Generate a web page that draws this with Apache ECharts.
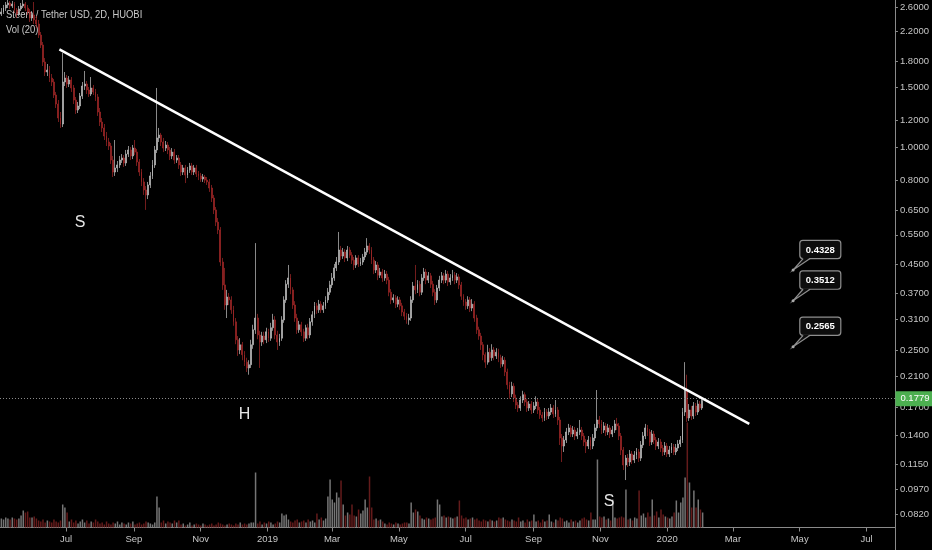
<!DOCTYPE html>
<html><head><meta charset="utf-8">
<script src="https://cdn.jsdelivr.net/npm/echarts@6/dist/echarts.min.js"></script>
<style>html,body{margin:0;padding:0;background:#000;}#c{width:932px;height:550px;}</style>
</head><body><div id="c"></div>
<script>
// ---- data (Steem / Tether USD, 2D candles, HUOBI) ----
const firstCandleDate = '2018-05-03';
const candleStepDays = 2;
const opens = [
2.479,2.513,2.582,2.636,2.672,2.618,2.654,2.547,2.479,2.565,
2.618,2.654,2.582,2.513,2.412,2.462,2.380,2.316,2.148,2.007,
1.787,1.669,1.692,1.602,1.559,1.427,1.342,1.220,1.171,1.559,
1.602,1.538,1.581,1.497,1.379,1.288,1.324,1.417,1.517,1.538,
1.477,1.437,1.497,1.457,1.408,1.271,1.187,1.140,1.079,1.036,
1.008,0.916,0.844,0.868,0.886,0.916,0.929,0.898,0.954,0.981,
0.942,0.994,0.967,0.904,0.844,0.789,0.747,0.722,0.773,0.822,
0.886,0.981,1.065,1.086,1.036,0.994,1.015,0.981,0.942,0.967,
0.916,0.929,0.886,0.844,0.868,0.827,0.856,0.880,0.844,0.868,
0.833,0.822,0.805,0.816,0.799,0.789,0.757,0.707,0.652,0.600,
0.569,0.457,0.391,0.341,0.360,0.353,0.330,0.304,0.269,0.251,
0.260,0.243,0.231,0.222,0.227,0.260,0.288,0.312,0.278,0.265,
0.276,0.269,0.284,0.272,0.292,0.308,0.278,0.265,0.272,0.308,
0.353,0.393,0.410,0.378,0.341,0.312,0.288,0.298,0.284,0.272,
0.292,0.278,0.304,0.319,0.339,0.330,0.343,0.330,0.339,0.353,
0.372,0.391,0.410,0.439,0.457,0.496,0.476,0.489,0.470,0.496,
0.479,0.463,0.448,0.470,0.451,0.457,0.473,0.489,0.510,0.496,
0.463,0.433,0.448,0.418,0.427,0.410,0.421,0.404,0.372,0.353,
0.358,0.343,0.353,0.339,0.325,0.316,0.308,0.312,0.353,0.388,
0.378,0.393,0.372,0.410,0.427,0.404,0.416,0.393,0.372,0.353,
0.383,0.404,0.416,0.404,0.421,0.399,0.410,0.418,0.404,0.413,
0.391,0.362,0.348,0.339,0.353,0.334,0.343,0.312,0.288,0.276,
0.260,0.243,0.231,0.247,0.238,0.251,0.241,0.247,0.238,0.228,
0.234,0.216,0.198,0.186,0.196,0.181,0.1724,0.1690,0.1784,0.185,
0.1760,0.1690,0.1736,0.1667,0.1713,0.1760,0.1667,0.1611,0.1579,0.1644,
0.1600,0.1644,0.1690,0.1622,0.1667,0.1557,0.1377,0.1304,0.1358,0.1435,
0.1475,0.1415,0.1454,0.1396,0.1435,0.1454,0.1396,0.1340,0.1304,0.1358,
0.1304,0.1377,0.1475,0.1557,0.1516,0.1454,0.1495,0.1435,0.1475,0.1415,
0.1454,0.1516,0.1495,0.1396,0.1269,0.1146,0.1201,0.1169,0.1235,0.1185,
0.1226,0.1252,0.1201,0.1313,0.1396,0.1475,0.1435,0.1340,0.1415,0.1358,
0.1304,0.1340,0.1286,0.1252,0.1304,0.1235,0.1269,0.1295,0.1252,0.1286,
0.1322,0.1358,0.1644,0.191,0.1579,0.1667,0.1600,0.1713,0.1644,0.1736,
0.1690];
const closes = [
2.513,2.582,2.636,2.672,2.618,2.654,2.547,2.479,2.565,2.618,
2.654,2.582,2.513,2.412,2.462,2.380,2.316,2.148,2.007,1.787,
1.669,1.692,1.602,1.559,1.427,1.342,1.220,1.171,1.559,1.602,
1.538,1.581,1.497,1.379,1.288,1.324,1.417,1.517,1.538,1.477,
1.437,1.497,1.457,1.408,1.271,1.187,1.140,1.079,1.036,1.008,
0.916,0.844,0.868,0.886,0.916,0.929,0.898,0.954,0.981,0.942,
0.994,0.967,0.904,0.844,0.789,0.747,0.722,0.773,0.822,0.886,
0.981,1.065,1.086,1.036,0.994,1.015,0.981,0.942,0.967,0.916,
0.929,0.886,0.844,0.868,0.827,0.856,0.880,0.844,0.868,0.833,
0.822,0.805,0.816,0.799,0.789,0.757,0.707,0.652,0.600,0.569,
0.457,0.391,0.341,0.360,0.353,0.330,0.304,0.269,0.251,0.260,
0.243,0.231,0.222,0.227,0.260,0.288,0.312,0.278,0.265,0.276,
0.269,0.284,0.272,0.292,0.308,0.278,0.265,0.272,0.308,0.353,
0.393,0.410,0.378,0.341,0.312,0.288,0.298,0.284,0.272,0.292,
0.278,0.304,0.319,0.339,0.330,0.343,0.330,0.339,0.353,0.372,
0.391,0.410,0.439,0.457,0.496,0.476,0.489,0.470,0.496,0.479,
0.463,0.448,0.470,0.451,0.457,0.473,0.489,0.510,0.496,0.463,
0.433,0.448,0.418,0.427,0.410,0.421,0.404,0.372,0.353,0.358,
0.343,0.353,0.339,0.325,0.316,0.308,0.312,0.353,0.388,0.378,
0.393,0.372,0.410,0.427,0.404,0.416,0.393,0.372,0.353,0.383,
0.404,0.416,0.404,0.421,0.399,0.410,0.418,0.404,0.413,0.391,
0.362,0.348,0.339,0.353,0.334,0.343,0.312,0.288,0.276,0.260,
0.243,0.231,0.247,0.238,0.251,0.241,0.247,0.238,0.228,0.234,
0.216,0.198,0.186,0.196,0.181,0.1724,0.1690,0.1784,0.185,0.1760,
0.1690,0.1736,0.1667,0.1713,0.1760,0.1667,0.1611,0.1579,0.1644,0.1600,
0.1644,0.1690,0.1622,0.1667,0.1557,0.1377,0.1304,0.1358,0.1435,0.1475,
0.1415,0.1454,0.1396,0.1435,0.1454,0.1396,0.1340,0.1304,0.1358,0.1304,
0.1377,0.1475,0.1557,0.1516,0.1454,0.1495,0.1435,0.1475,0.1415,0.1454,
0.1516,0.1495,0.1396,0.1269,0.1146,0.1201,0.1169,0.1235,0.1185,0.1226,
0.1252,0.1201,0.1313,0.1396,0.1475,0.1435,0.1340,0.1415,0.1358,0.1304,
0.1340,0.1286,0.1252,0.1304,0.1235,0.1269,0.1295,0.1252,0.1286,0.1322,
0.1358,0.1644,0.191,0.1579,0.1667,0.1600,0.1713,0.1644,0.1736,0.1690,
0.1779];
const highs = [
2.582,2.636,2.690,2.727,2.709,2.709,2.690,2.582,2.618,2.672,
2.727,2.690,2.636,2.565,2.530,2.690,2.445,2.380,2.193,2.048,
1.836,1.763,1.739,1.647,1.592,1.457,1.379,1.271,1.900,1.669,
1.636,1.624,1.613,1.528,1.408,1.361,1.447,1.559,1.681,1.570,
1.507,1.613,1.528,1.487,1.437,1.306,1.220,1.171,1.109,1.065,
1.029,0.942,1.050,0.910,0.942,0.954,0.948,0.981,1.008,1.001,
1.015,1.050,0.988,0.922,0.862,0.810,0.767,0.789,0.844,0.916,
1.008,1.497,1.140,1.102,1.065,1.043,1.036,1.001,0.994,0.988,
0.948,0.948,0.904,0.886,0.886,0.874,0.898,0.898,0.886,0.886,
0.850,0.839,0.833,0.827,0.816,0.805,0.773,0.722,0.665,0.617,
0.580,0.470,0.439,0.378,0.370,0.362,0.339,0.312,0.276,0.272,
0.265,0.249,0.238,0.234,0.269,0.298,0.520,0.321,0.286,0.284,
0.284,0.292,0.290,0.302,0.321,0.316,0.286,0.280,0.316,0.362,
0.404,0.448,0.421,0.385,0.350,0.321,0.306,0.304,0.290,0.298,
0.300,0.312,0.327,0.348,0.346,0.353,0.350,0.348,0.362,0.383,
0.402,0.424,0.451,0.473,0.561,0.510,0.503,0.499,0.510,0.506,
0.489,0.473,0.479,0.479,0.470,0.483,0.503,0.538,0.520,0.506,
0.473,0.460,0.457,0.439,0.436,0.433,0.430,0.413,0.380,0.367,
0.365,0.362,0.360,0.346,0.332,0.323,0.321,0.362,0.399,0.448,
0.404,0.402,0.421,0.439,0.436,0.427,0.424,0.402,0.380,0.391,
0.416,0.427,0.424,0.433,0.430,0.421,0.433,0.427,0.424,0.421,
0.399,0.367,0.355,0.362,0.360,0.355,0.350,0.319,0.294,0.282,
0.265,0.247,0.260,0.254,0.261,0.256,0.254,0.253,0.243,0.241,
0.239,0.221,0.202,0.202,0.200,0.185,0.1760,0.183,0.190,0.188,
0.180,0.1772,0.1772,0.1760,0.183,0.180,0.1701,0.1644,0.1690,0.1678,
0.1690,0.1736,0.1724,0.1784,0.1701,0.1590,0.1415,0.1396,0.1475,0.1516,
0.1505,0.1495,0.1485,0.1475,0.1557,0.1485,0.1425,0.1367,0.1396,0.1386,
0.1415,0.1516,0.191,0.1600,0.1557,0.1536,0.1526,0.1516,0.1505,0.1495,
0.1557,0.1579,0.1526,0.1425,0.1295,0.1226,0.1235,0.1269,0.1260,0.1260,
0.1286,0.1277,0.1349,0.1435,0.1516,0.1505,0.1465,0.1454,0.1445,0.1386,
0.1377,0.1367,0.1313,0.1340,0.1331,0.1304,0.1331,0.1322,0.1322,0.1358,
0.1396,0.1690,0.231,0.212,0.1736,0.1713,0.1760,0.1748,0.1784,0.1772,
0.181];
const lows = [
2.445,2.479,2.530,2.582,2.565,2.582,2.496,2.412,2.445,2.530,
2.582,2.530,2.462,2.348,2.364,2.316,2.253,2.105,1.966,1.739,
1.624,1.624,1.559,1.517,1.398,1.306,1.187,1.140,1.147,1.517,
1.497,1.507,1.457,1.342,1.254,1.262,1.297,1.389,1.477,1.437,
1.408,1.417,1.427,1.370,1.237,1.155,1.109,1.050,1.008,0.981,
0.892,0.816,0.822,0.844,0.868,0.898,0.874,0.880,0.935,0.916,
0.922,0.948,0.880,0.822,0.767,0.722,0.652,0.702,0.757,0.805,
0.868,0.961,1.036,1.008,0.967,0.974,0.954,0.916,0.922,0.892,
0.898,0.862,0.822,0.827,0.783,0.810,0.839,0.827,0.827,0.816,
0.799,0.789,0.789,0.783,0.773,0.737,0.688,0.634,0.584,0.553,
0.445,0.378,0.330,0.312,0.341,0.321,0.296,0.261,0.241,0.244,
0.234,0.225,0.216,0.212,0.222,0.253,0.280,0.270,0.222,0.258,
0.261,0.263,0.265,0.267,0.286,0.270,0.251,0.258,0.267,0.302,
0.346,0.383,0.367,0.332,0.304,0.280,0.282,0.276,0.265,0.267,
0.270,0.272,0.296,0.312,0.321,0.323,0.323,0.323,0.332,0.346,
0.365,0.383,0.402,0.430,0.448,0.463,0.467,0.457,0.460,0.470,
0.451,0.433,0.439,0.442,0.445,0.448,0.463,0.479,0.483,0.451,
0.421,0.424,0.404,0.410,0.399,0.402,0.393,0.362,0.343,0.346,
0.334,0.336,0.330,0.316,0.308,0.300,0.298,0.306,0.346,0.367,
0.370,0.362,0.365,0.402,0.393,0.396,0.383,0.362,0.341,0.346,
0.375,0.396,0.393,0.396,0.388,0.391,0.402,0.393,0.396,0.380,
0.353,0.339,0.330,0.332,0.325,0.327,0.304,0.280,0.269,0.251,
0.234,0.222,0.227,0.231,0.233,0.234,0.236,0.231,0.222,0.224,
0.210,0.192,0.180,0.182,0.1760,0.1678,0.1644,0.1656,0.1748,0.1713,
0.1644,0.1656,0.1622,0.1633,0.1678,0.1622,0.1568,0.1536,0.1547,0.1557,
0.1568,0.1611,0.1579,0.1590,0.1505,0.1313,0.1169,0.1252,0.1331,0.1405,
0.1386,0.1386,0.1358,0.1367,0.1405,0.1358,0.1304,0.1243,0.1277,0.1269,
0.1277,0.1349,0.1445,0.1475,0.1415,0.1425,0.1396,0.1405,0.1377,0.1386,
0.1425,0.1454,0.1358,0.1226,0.1107,0.1034,0.1130,0.1138,0.1153,0.1161,
0.1193,0.1169,0.1177,0.1286,0.1367,0.1396,0.1304,0.1313,0.1322,0.1269,
0.1277,0.1252,0.1218,0.1226,0.1210,0.1210,0.1243,0.1226,0.1226,0.1260,
0.1295,0.1331,0.1600,0.1536,0.1547,0.1557,0.1568,0.1600,0.1611,0.1656,
0.1667];
const volumes = [
9,8,10,9,8,10,9,8,9,
12,17,15,16,10,
10,11,9,
7,6,8,5,7,6,5,8,6,5,7,
23,20,15,
6,8,5,7,4,6,8,5,7,4,6,5,8,6,
4,5,3,6,4,3,5,4,6,3,5,4,3,5,4,6,3,4,5,3,4,6,5,4,3,5,
31,20,
5,7,4,6,5,4,7,5,
7,
3,4,2,3,5,2,3,4,3,2,4,3,2,3,4,2,3,5,4,3,2,3,4,3,2,4,3,5,3,4,3,4,5,
5,55,
4,6,3,5,4,6,5,3,4,6,5,
14,12,13,8,
6,5,7,8,5,6,7,5,8,6,7,5,
14,
8,10,7,9,
31,48,28,25,35,30,47,23,
12,15,13,
23,12,11,18,14,17,28,20,51,20,
8,9,7,8,6,
4,3,5,4,3,5,4,3,4,5,5,4,
25,15,18,16,12,
9,8,10,9,8,9,10,
28,23,
11,12,10,11,10,9,10,11,
27,12,
9,10,8,9,10,8,9,
7,6,8,7,6,8,7,6,7,
10,9,10,8,
7,6,8,7,6,
10,
6,7,5,8,6,7,
13,
6,7,5,8,6,7,
13,
6,5,8,7,10,9,6,7,5,8,6,7,5,
7,9,10,8,7,
15,8,8,68,
11,10,11,
8,9,7,
28,
10,9,10,11,10,
38,
8,9,7,
10,9,
37,
12,14,10,15,
11,28,
12,16,10,18,13,11,
10,9,11,
15,27,15,25,30,50,105,45,20,37,20,28,18,15];
const priceTicks = [2.6,2.2,1.8,1.5,1.2,1.0,0.8,0.65,0.55,0.45,0.37,0.31,0.25,0.21,0.17,0.14,0.115,0.097,0.082];
const monthTicks = ['2018-07-01','2018-09-01','2018-11-01','2019-01-01','2019-03-01','2019-05-01','2019-07-01','2019-09-01','2019-11-01','2020-01-01','2020-03-01','2020-05-01','2020-07-01'];
const monthNames = ['Jan','Feb','Mar','Apr','May','Jun','Jul','Aug','Sep','Oct','Nov','Dec'];
const lastPrice = 0.1779;
const trendline = [['2018-06-25', 1.948], ['2020-03-16', 0.1516]];
const calloutDate = '2020-04-25';
const callouts = [0.4328, 0.3512, 0.2565];
const annotations = [
  {text:'S', date:'2018-07-14', price:0.600},
  {text:'H', date:'2018-12-11', price:0.1619},
  {text:'S', date:'2019-11-09', price:0.0892}
];

// ---- build ----
const DAY = 86400000;
const ts = s => Date.parse(s + 'T00:00:00Z');
const t0 = ts(firstCandleDate);
const dates = closes.map((_, i) => t0 + i * candleStepDays * DAY);
const candleData = closes.map((c, i) => [dates[i], opens[i], c, lows[i], highs[i]]);
const UP = '#9c9c9c', UP_B = '#c4c4c4', DN = '#801c1c', DN_B = '#a52828';
const volData = volumes.map((v, i) => ({
  value: [dates[i], v],
  itemStyle: {color: closes[i] >= opens[i] ? '#757575' : '#641b1b'}
}));

const FONT = '"Liberation Sans Narrow", "Liberation Sans", Arial, sans-serif';
const AXIS_C = '#8a8a8a', LABEL_C = '#c6c6c6';
const gridRight = 36.5, gridBottom = 22.5;
const jul2018 = ts('2018-07-01');
const xMin = jul2018 - 60.23 * DAY, xMax = jul2018 + 757.0 * DAY;
const monthTickValues = monthTicks.map(ts);
const fmtMonth = v => { const d = new Date(v); const m = d.getUTCMonth(); return m === 0 ? String(d.getUTCFullYear()) : monthNames[m]; };

const option = {
  backgroundColor: '#000000',
  animation: false,
  grid: [
    {left: 0, right: gridRight, top: 0, bottom: gridBottom},
    {left: 0, right: gridRight, bottom: gridBottom, height: 200}
  ],
  xAxis: [
    {type: 'value', gridIndex: 0, min: xMin, max: xMax, scale: true,
     axisLine: {show: true, onZero: false, lineStyle: {color: AXIS_C, width: 1}},
     axisTick: {show: true, length: 4, customValues: monthTickValues, lineStyle: {color: AXIS_C}},
     axisLabel: {show: true, customValues: monthTickValues, color: LABEL_C, fontSize: 9.5, fontFamily: FONT, margin: 7, formatter: fmtMonth},
     splitLine: {show: false}},
    {type: 'value', gridIndex: 1, min: xMin, max: xMax, scale: true, show: false, splitLine: {show: false}}
  ],
  yAxis: [
    {type: 'log', logBase: 10, gridIndex: 0, position: 'right', min: 0.07482, max: 2.7271,
     axisLine: {show: true, lineStyle: {color: AXIS_C, width: 1}},
     axisTick: {show: true, length: 3, customValues: priceTicks, lineStyle: {color: AXIS_C}},
     axisLabel: {show: true, customValues: priceTicks, formatter: v => Number(v).toFixed(4), color: LABEL_C, fontSize: 9.5, fontFamily: FONT, margin: 5},
     splitLine: {show: false}},
    {type: 'value', gridIndex: 1, min: 0, max: 200, show: false, splitLine: {show: false}}
  ],
  series: [
    {type: 'bar', name: 'Vol', xAxisIndex: 1, yAxisIndex: 1, data: volData, barWidth: 1.5, z: 1},
    {type: 'candlestick', name: 'STEEMUSDT', xAxisIndex: 0, yAxisIndex: 0, data: candleData,
     encode: {x: 0, y: [1, 2, 3, 4]}, barWidth: 1.4, z: 3,
     itemStyle: {color: UP, color0: DN, borderColor: UP_B, borderColor0: DN_B, borderWidth: 0.7},
     markLine: {symbol: ['none', 'none'], silent: true, animation: false,
       lineStyle: {color: '#8a8a8a', type: [1, 2], width: 1},
       label: {show: true, position: 'end', formatter: lastPrice.toFixed(4), backgroundColor: '#4caf50', color: '#ffffff',
         padding: [3, 4, 2, 5], fontSize: 9.5, fontFamily: FONT, distance: 0.5},
       data: [{yAxis: lastPrice}]},
     markPoint: {symbol: 'circle', symbolSize: 1, itemStyle: {color: 'rgba(0,0,0,0)'}, animation: false,
       label: {show: true, position: 'inside', formatter: '{b}', color: '#e6e6e6', fontSize: 16, fontFamily: FONT},
       data: annotations.map(a => ({name: a.text, coord: [ts(a.date), a.price]}))}
    },
    {type: 'line', name: 'Trend', xAxisIndex: 0, yAxisIndex: 0, data: trendline.map(p => [ts(p[0]), p[1]]),
     symbol: 'none', lineStyle: {color: '#ffffff', width: 2.5}, z: 5, silent: true}
  ]
};

const chart = echarts.init(document.getElementById('c'));
chart.setOption(option);

const g = [];
g.push({type: 'text', x: 6, y: 14.5, scaleX: 0.82, style: {text: 'Steem / Tether USD, 2D, HUOBI', fill: '#c9c9c9', font: '11.5px ' + FONT, verticalAlign: 'middle', textVerticalAlign: 'middle'}});
g.push({type: 'text', x: 6, y: 29.5, scaleX: 0.82, style: {text: 'Vol (20)', fill: '#c9c9c9', font: '11.5px ' + FONT, verticalAlign: 'middle', textVerticalAlign: 'middle'}});
g.push({type: 'line', shape: {x1: 932 - gridRight, y1: 550 - gridBottom, x2: 932 - gridRight, y2: 550}, style: {stroke: AXIS_C, lineWidth: 1}});
callouts.forEach(v => {
  const p = chart.convertToPixel({xAxisIndex: 0, yAxisIndex: 0}, [ts(calloutDate), v]);
  const bx = p[0] + 6.7, by = p[1] - 29.7, bw = 41, bh = 18.3;
  g.push({type: 'rect', z: 10, shape: {x: bx, y: by, width: bw, height: bh, r: 3}, style: {fill: '#0d0d0d', stroke: '#8f8f8f', lineWidth: 1.2}});
  g.push({type: 'polygon', z: 11, shape: {points: [[p[0] + 10, by + bh - 0.8], [p[0] + 17, by + bh - 0.8], [p[0], p[1]]]}, style: {fill: '#0d0d0d'}});
  g.push({type: 'polyline', z: 11, shape: {points: [[p[0] + 10, by + bh], [p[0], p[1]], [p[0] + 17, by + bh]]}, style: {stroke: '#8f8f8f', lineWidth: 1.2, fill: null}});
  g.push({type: 'circle', z: 12, shape: {cx: p[0], cy: p[1], r: 1.5}, style: {fill: '#aaaaaa'}});
  g.push({type: 'text', z: 12, x: bx + bw / 2, y: by + bh / 2 + 0.5, style: {text: v.toFixed(4), fill: '#ffffff', font: 'bold 9.5px ' + FONT, align: 'center', textAlign: 'center', verticalAlign: 'middle', textVerticalAlign: 'middle'}});
});
const lens = [opens.length, closes.length, highs.length, lows.length, volumes.length];
if (lens.some(l => l !== lens[0])) {
  g.push({type: 'text', x: 300, y: 100, style: {text: 'LEN ' + lens.join(','), fill: '#ff0', font: '14px sans-serif'}});
}
chart.setOption({graphic: g});
</script>
</body></html>
